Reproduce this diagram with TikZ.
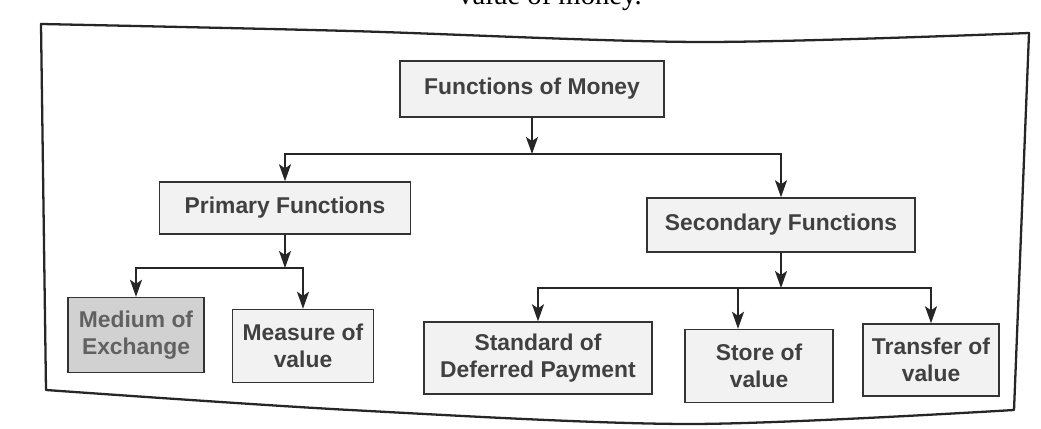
\documentclass[tikz,border=0pt]{standalone}
\usepackage{fontspec}
\setmainfont{Liberation Sans}
\newfontfamily\pagefont{Liberation Serif}
\usetikzlibrary{arrows.meta}

\begin{document}
\begin{tikzpicture}
[
fnbox/.style 2 args={draw=black!80,line width=0.8pt,fill=black!5,minimum width=#1,minimum height=#2,inner sep=0pt,align=center,text=black!75,font=\fontsize{13}{15.5}\selectfont\bfseries},
flow/.style={-{Stealth[length=3.4mm,width=2.4mm,inset=0.8mm]},line width=1pt,draw=black!85},
frame/.style={line width=1.3pt,draw=black!85,line join=round},
]
\useasboundingbox (0,0) rectangle (20.82,8.58);
\clip (0,0) rectangle (20.82,8.58);

%Page text cut off by the scan
\node[anchor=base,inner sep=0pt,font=\pagefont\fontsize{16.3}{18}\selectfont] (pg) at (11.0,8.48) {value of money.};

%Frame
\draw[frame] plot[smooth] coordinates {(0.82,8.10) (7.00,7.96) (14.00,7.74) (20.58,7.92)}
  -- plot[smooth] coordinates {(20.28,0.38) (13.80,0.10) (7.00,0.38) (0.92,0.78)} -- cycle;

%Place the nodes
\node[fnbox={5.28cm}{1.12cm}] (fm) at (10.64,6.80) {Functions of Money};
\node[fnbox={5.02cm}{1.04cm}] (pf) at (5.70,4.42) {Primary Functions};
\node[fnbox={5.36cm}{1.08cm}] (sf) at (15.62,4.08) {Secondary Functions};
\node[fnbox={2.72cm}{1.50cm},fill=black!18,text=black!62] (me) at (2.72,1.88) {Medium of\\Exchange};
\node[fnbox={2.82cm}{1.46cm}] (mv) at (6.06,1.66) {Measure of\\value};
\node[fnbox={4.56cm}{1.44cm}] (sd) at (10.76,1.42) {Standard of\\Deferred Payment};
\node[fnbox={2.96cm}{1.46cm}] (sv) at (15.18,1.26) {Store of\\value};
\node[fnbox={2.72cm}{1.44cm}] (tv) at (18.62,1.38) {Transfer of\\value};
\coordinate (j1) at (10.64,5.50);
\coordinate (j2) at (5.70,3.22);
\coordinate (j3) at (15.62,2.82);

%Draw the connections
\draw[flow] (fm) -- (j1);
\draw[flow] (j1) -| (pf);
\draw[flow] (j1) -| (sf);
\draw[flow] (pf) -- (j2);
\draw[flow] (j2) -| (me);
\draw[flow] (j2) -| (mv);
\draw[flow] (sf) -- (j3);
\draw[flow] (j3) -| (sd);
\draw[flow] (j3) -| ([xshift=-4.2mm]sv.north);
\draw[flow] (j3) -| (tv);
\end{tikzpicture}
\end{document}
